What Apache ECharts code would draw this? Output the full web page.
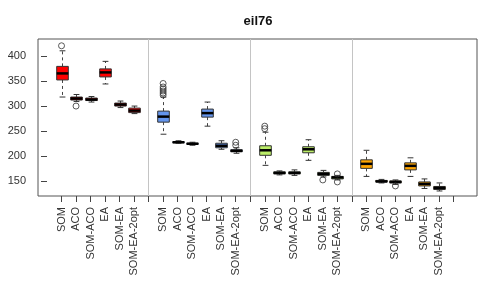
<!DOCTYPE html>
<html>
<head>
<meta charset="utf-8">
<script src="https://cdn.jsdelivr.net/npm/echarts@6/dist/echarts.min.js"></script>
<style>html,body{margin:0;padding:0;background:#fff}#c{width:491px;height:288px}</style>
</head>
<body>
<div id="c"></div>
<script>
// ---- data ----
const title = 'eil76';
const categories = ['SOM', 'ACO', 'SOM-ACO', 'EA', 'SOM-EA', 'SOM-EA-2opt'];
// [min, Q1, median, Q3, max] per method
const group1Stats = [[318,352,365,379,410],[309,312,315,318,323],[308,311,313,316,319],[344,358,367,374,389],[297,300,303,306,310],[285,287,291,296,300]];
const group1Outliers = [[420],[300],[],[],[],[]];
const group2Stats = [[244,268,279,290,318],[226,227,228,229,231],[222,224,225,226,228],[260,278,286,294,308],[214,217,221,226,231],[206,209,211,213,217]];
const group2Outliers = [[322,326,330,334,338,345],[],[],[],[],[222,228]];
const group3Stats = [[182,202,212,221,248],[163,165,167,169,171],[162,165,167,169,173],[192,207,214,219,233],[159,162,165,168,172],[153,155,158,160,162]];
const group3Outliers = [[255,260],[],[],[],[153],[149,165]];
const group4Stats = [[160,176,185,193,212],[147,149,150,152,154],[144,147,149,151,153],[160,173,181,187,197],[136,141,145,149,155],[131,134,137,140,147]];
const group4Outliers = [[],[],[141],[],[],[]];
const yTicks = [150, 200, 250, 300, 350, 400];
const dividers = [7, 14, 21];

// ---- build ----
const groupColors = ['#FF0000', '#6495ED', '#BCEE68', '#FFA500'];
const allStats = [group1Stats, group2Stats, group3Stats, group4Stats];
const allOut = [group1Outliers, group2Outliers, group3Outliers, group4Outliers];
const slots = categories.length + 1;
const boxData = [], outData = [], xTicks = [], xLabels = {};
allStats.forEach((g, gi) => {
  for (let s = 0; s < slots; s++) {
    const x = gi * slots + s + 1;
    xTicks.push(x);
    xLabels[x] = s < categories.length ? categories[s] : '';
  }
  g.forEach((st, mi) => {
    const x = gi * slots + mi + 1;
    boxData.push([x].concat(st).concat([gi]));
    allOut[gi][mi].forEach(v => outData.push([x, v]));
  });
});

const font = '"Liberation Sans", Arial, sans-serif';
const chart = echarts.init(document.getElementById('c'), null, {renderer: 'canvas'});
chart.setOption({
  animation: false,
  backgroundColor: '#fff',
  title: {
    text: title, left: 253, top: 10, textAlign: 'center',
    textStyle: {fontFamily: font, fontSize: 13, fontWeight: 'bold', color: '#111'}
  },
  grid: {left: 38, right: 14, top: 39, bottom: 92, show: true, borderColor: '#555', borderWidth: 1, backgroundColor: 'transparent'},
  xAxis: {
    type: 'value', min: -0.62, max: 29.62,
    axisLine: {show: false}, splitLine: {show: false},
    axisTick: {show: true, customValues: xTicks, length: 6, lineStyle: {color: '#444'}},
    axisLabel: {customValues: xTicks, rotate: 90, margin: 11, fontSize: 11, fontFamily: font, color: '#333',
      formatter: v => xLabels[Math.round(v)] || ''}
  },
  yAxis: {
    type: 'value', min: 121, max: 433.5,
    axisLine: {show: false}, splitLine: {show: false},
    axisTick: {show: true, customValues: yTicks, length: 6, lineStyle: {color: '#444'}},
    axisLabel: {customValues: yTicks, margin: 12, fontSize: 11, fontFamily: font, color: '#333'}
  },
  series: [
    {
      type: 'custom',
      data: boxData,
      encode: {x: 0, y: [1, 2, 3, 4, 5]},
      renderItem: (params, api) => {
        const x = api.value(0);
        const p = [1, 2, 3, 4, 5].map(i => api.coord([x, api.value(i)]));
        const cx = Math.round(p[0][0]) + 0.5;
        const w = api.size([0.8, 0])[0];
        const h = w / 2, q = w / 4;
        const col = groupColors[api.value(6)];
        const dash = {stroke: '#444', lineWidth: 1, lineDash: [3, 3]};
        const solid = {stroke: '#333', lineWidth: 1};
        return {
          type: 'group',
          children: [
            {type: 'line', shape: {x1: cx, y1: p[3][1], x2: cx, y2: p[4][1]}, style: dash},
            {type: 'line', shape: {x1: cx, y1: p[1][1], x2: cx, y2: p[0][1]}, style: dash},
            {type: 'line', shape: {x1: cx - q, y1: p[4][1], x2: cx + q, y2: p[4][1]}, style: solid},
            {type: 'line', shape: {x1: cx - q, y1: p[0][1], x2: cx + q, y2: p[0][1]}, style: solid},
            {type: 'rect', shape: {x: cx - h, y: p[3][1], width: w, height: p[1][1] - p[3][1]}, style: {fill: col, stroke: '#333', lineWidth: 1}},
            {type: 'line', shape: {x1: cx - h, y1: p[2][1], x2: cx + h, y2: p[2][1]}, style: {stroke: '#000', lineWidth: 2.5}}
          ]
        };
      }
    },
    {
      type: 'scatter',
      data: outData,
      symbol: 'circle',
      symbolSize: 6,
      itemStyle: {color: 'rgba(0,0,0,0)', borderColor: '#333', borderWidth: 1},
      markLine: {
        silent: true, symbol: 'none',
        label: {show: false},
        lineStyle: {color: '#c4c4c4', type: 'solid', width: 1},
        data: dividers.map(v => ({xAxis: v}))
      }
    }
  ]
});
</script>
</body>
</html>
